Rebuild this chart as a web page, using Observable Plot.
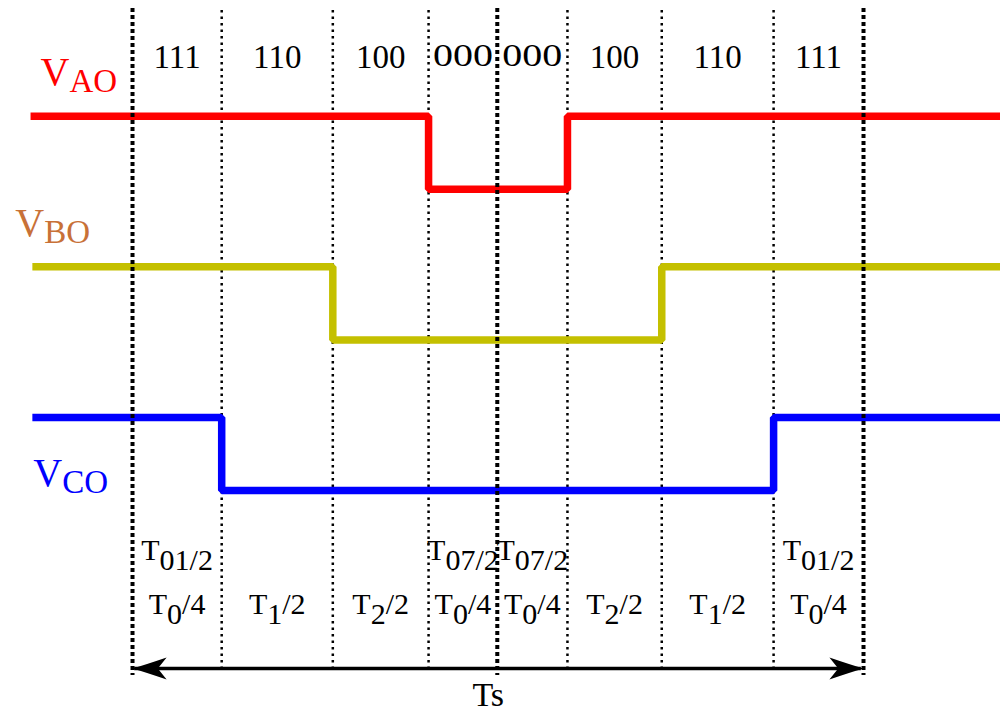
<!DOCTYPE html>
<html>
<head>
<meta charset="utf-8">
<script src="https://cdn.jsdelivr.net/npm/d3@7"></script>
<script src="https://cdn.jsdelivr.net/npm/@observablehq/plot@0.6"></script>
<style>
  html, body { margin: 0; padding: 0; background: #fff; }
  #chart svg { display: block; }
</style>
</head>
<body>
<div id="chart"></div>
<script>
// ---------- data ----------
// switching states per segment (bits: phase A, B, C)
const states = ["111", "110", "100", "000", "000", "100", "110", "111"];
// segment boundaries, in % of the sampling period Ts
const boundaries = [0, 12.2, 27.4, 40.5, 49.9, 59.5, 72.4, 87.7, 100];
// duration labels ("_" toggles subscript)
const durationLabels = ["T_0_/4", "T_1_/2", "T_2_/2", "T_0_/4", "T_0_/4", "T_2_/2", "T_1_/2", "T_0_/4"];
const zeroVectorLabels = ["T_01/2", "", "", "T_07/2", "T_07/2", "", "", "T_01/2"];
// phase signals
const signalNames = ["V_AO", "V_BO", "V_CO"];
const signalColors = ["#ff0000", "#c4c000", "#0000ff"];
const labelColors = ["#ff0000", "#c87137", "#0000ff"];
const signalStart = [-13.95, -13.7, -13.7];   // time where each trace starts
const signalEnd = 118.74;                      // time where traces end
const periodLabel = "Ts";

// ---------- layout (not data) ----------
const rowBase = [4, 2, 0];      // vertical offset of each trace (y units)
const bitAmp = 0.97;            // high-level height (y units)
const arrowLevel = -2.364;
const serif = "Liberation Serif";

// ---------- derived tables ----------
const mids = states.map((s, i) => (boundaries[i] + boundaries[i + 1]) / 2);
const segments = states.map((s, i) => ({
  x: mids[i], state: s, dur: durationLabels[i], zero: zeroVectorLabels[i], i
}));
const traces = signalNames.flatMap((name, k) => {
  const pts = [{t: signalStart[k], bit: +states[0][k]}];
  states.forEach((s, i) => pts.push({t: boundaries[i], bit: +s[k]}));
  pts.push({t: signalEnd, bit: +states[states.length - 1][k]});
  return pts.map(p => ({...p, name, k, y: rowBase[k] + bitAmp * p.bit}));
});
const thick = [boundaries[0], boundaries[4], boundaries[8]];
const thin = boundaries.filter((b, i) => i !== 0 && i !== 4 && i !== 8);

// left labels placement (pixels, relative to trace start)
const labelPlace = [
  {dx: 10, ref: 1, dy: -31.5},
  {dx: -17, ref: 1, dy: -31},
  {dx: 1, ref: 0, dy: -5}
];

// stealth arrowhead symbol, tip at origin pointing right
const stealth = {
  draw(ctx, size) {
    const r = Math.sqrt(size / Math.PI);
    ctx.moveTo(0, 0);
    ctx.quadraticCurveTo(-1.2 * r, -0.35 * r, -3.1 * r, -r);
    ctx.lineTo(-2.3 * r, 0);
    ctx.lineTo(-3.1 * r, r);
    ctx.quadraticCurveTo(-1.2 * r, 0.35 * r, 0, 0);
    ctx.closePath();
  }
};

const marks = [];
// thin dotted boundaries (behind traces)
marks.push(Plot.ruleX(thin, {stroke: "black", strokeWidth: 2.5, strokeDasharray: "2.5,4", insetTop: 10, insetBottom: 46}));
// traces
signalNames.forEach((name, k) => {
  marks.push(Plot.line(traces.filter(d => d.k === k), {
    x: "t", y: "y", curve: "step-after",
    stroke: signalColors[k], strokeWidth: 7.5,
    strokeLinejoin: "miter", strokeLinecap: "butt"
  }));
});
// thick dotted boundaries (on top)
marks.push(Plot.ruleX(thick, {stroke: "black", strokeWidth: 4, strokeDasharray: "4,3", insetTop: 8, insetBottom: 38}));
// left labels
signalNames.forEach((name, k) => {
  const p = labelPlace[k];
  marks.push(Plot.text([name], {
    x: () => signalStart[k], y: () => rowBase[k] + bitAmp * p.ref,
    text: d => d, dx: p.dx, dy: p.dy, textAnchor: "start", lineAnchor: "bottom",
    fill: labelColors[k], fontFamily: serif, fontSize: 40, ariaDescription: "vlabel"
  }));
});
// state labels at top
marks.push(Plot.text(segments.filter(d => d.state !== "000"), {
  x: "x", text: "state", frameAnchor: "top", lineAnchor: "bottom", dy: 67,
  fill: "black", fontFamily: serif, fontSize: 33
}));
marks.push(Plot.text(segments.filter(d => d.state === "000"), {
  x: "x", text: "state", frameAnchor: "top", lineAnchor: "bottom", dy: 65,
  fill: "black", fontFamily: serif, fontSize: 31, ariaDescription: "zero"
}));
// duration labels
marks.push(Plot.text(segments.filter(d => d.zero), {
  x: "x", text: "zero", frameAnchor: "top", lineAnchor: "bottom", dy: 559,
  fill: "black", fontFamily: serif, fontSize: 30, ariaDescription: "tlabel"
}));
marks.push(Plot.text(segments, {
  x: "x", text: "dur", frameAnchor: "top", lineAnchor: "bottom", dy: 613,
  fill: "black", fontFamily: serif, fontSize: 30, ariaDescription: "tlabel2"
}));
// period arrow
marks.push(Plot.ruleY([arrowLevel], {x1: boundaries[0] + 0.3, x2: boundaries[8] - 0.3, stroke: "black", strokeWidth: 3.5}));
marks.push(Plot.dot([boundaries[0]], {x: d => d, y: () => arrowLevel, symbol: stealth, r: 11, fill: "black", stroke: "none", rotate: 180}));
marks.push(Plot.dot([boundaries[8]], {x: d => d, y: () => arrowLevel, symbol: stealth, r: 11, fill: "black", stroke: "none"}));
marks.push(Plot.text([periodLabel], {
  x: () => boundaries[4], text: d => d, frameAnchor: "top", lineAnchor: "bottom",
  dy: 705, dx: -9, fill: "black", fontFamily: serif, fontSize: 34
}));

const svg = Plot.plot({
  width: 1000, height: 713,
  marginTop: 0, marginRight: 0, marginBottom: 0, marginLeft: 0,
  x: {domain: [-18.06, 118.74], range: [0, 1000], axis: null},
  y: {domain: [-2.961, 6.507], range: [713, 0], axis: null},
  style: {background: "white"},
  marks
});

// subscript post-processing
const NS = "http://www.w3.org/2000/svg";
function subscript(desc, shift, subSize) {
  svg.querySelectorAll(`g[aria-description="${desc}"] text`).forEach(t => {
    const parts = t.textContent.split("_");
    if (parts.length < 2) return;
    t.textContent = "";
    let cur = 0;
    parts.forEach((p, i) => {
      if (!p) return;
      const ts = document.createElementNS(NS, "tspan");
      const target = i % 2 ? shift : 0;
      ts.setAttribute("dy", target - cur);
      cur = target;
      if (i % 2 && subSize) ts.setAttribute("font-size", subSize);
      ts.textContent = p;
      t.appendChild(ts);
    });
  });
}
subscript("vlabel", 7, 33);
subscript("tlabel", 10, null);
subscript("tlabel2", 10, null);
svg.querySelectorAll('g[aria-description="zero"] text').forEach(t => {
  t.setAttribute("textLength", 60);
  t.setAttribute("lengthAdjust", "spacingAndGlyphs");
});

document.getElementById("chart").appendChild(svg);
</script>
</body>
</html>
